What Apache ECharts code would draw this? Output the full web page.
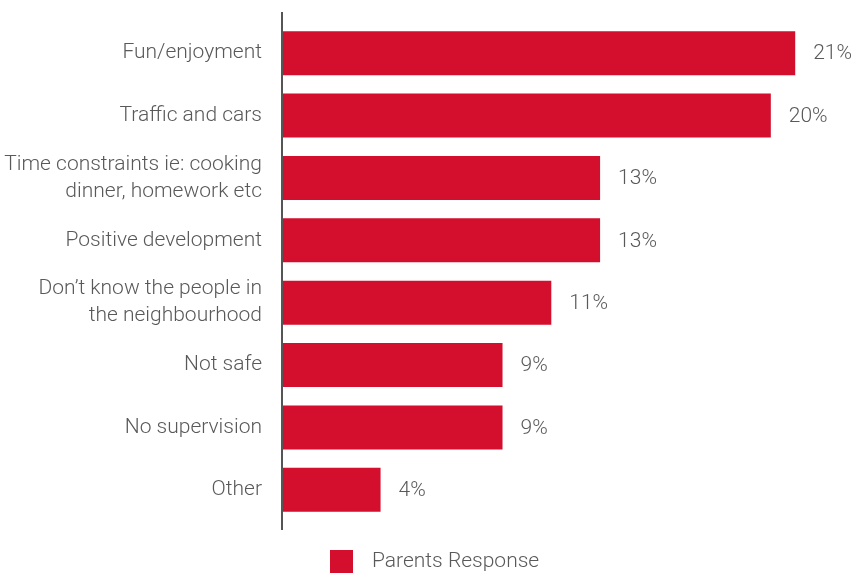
<!DOCTYPE html>
<html>
<head>
<meta charset="utf-8">
<title>Parents Response</title>
<script src="https://cdn.jsdelivr.net/npm/echarts@6/dist/echarts.min.js"></script>
<style>
  html, body { margin: 0; padding: 0; background: #ffffff; }
  #chart { width: 859px; height: 573px; }
</style>
</head>
<body>
<div id="chart"></div>
<script>
// Reasons given by parents, listed top to bottom
const categories = [
  'Fun/enjoyment',
  'Traffic and cars',
  'Time constraints ie: cooking\ndinner, homework etc',
  'Positive development',
  'Don\u2019t know the people in\nthe neighbourhood',
  'Not safe',
  'No supervision',
  'Other'
];
// Share of parents giving each reason (%)
const parentsResponse = [21, 20, 13, 13, 11, 9, 9, 4];
const seriesName = 'Parents Response';

const FONT = 'Roboto';
const TEXT = '#595959';
const RED = '#d30f2d';
const SIZE = 21;

const gridLeft = 283, gridTop = 22, gridHeight = 499;

const chart = echarts.init(document.getElementById('chart'), null, { renderer: 'canvas' });

chart.setOption({
  animation: false,
  backgroundColor: '#ffffff',
  textStyle: { fontFamily: FONT },
  grid: { left: gridLeft, top: gridTop, height: gridHeight, right: 15, containLabel: false },
  legend: {
    data: [seriesName],
    left: 330,
    top: 550,
    padding: 0,
    itemWidth: 23,
    itemHeight: 23,
    icon: 'rect',
    textStyle: { color: TEXT, fontSize: SIZE, fontWeight: 300, fontFamily: FONT, padding: [0, 0, 0, 14] }
  },
  xAxis: {
    type: 'value',
    min: 0,
    max: 23,
    show: false,
    splitLine: { show: false }
  },
  yAxis: {
    type: 'category',
    inverse: true,
    data: categories,
    axisLine: { show: false },
    axisTick: { show: false },
    axisLabel: {
      color: TEXT,
      fontSize: SIZE,
      fontWeight: 300,
      fontFamily: FONT,
      margin: 21,
      lineHeight: 27,
      align: 'right'
    }
  },
  series: [{
    name: seriesName,
    type: 'bar',
    data: parentsResponse,
    barWidth: 44,
    itemStyle: { color: RED },
    label: {
      show: true,
      position: 'right',
      distance: 18,
      offset: [0, 1],
      color: TEXT,
      fontSize: SIZE,
      fontWeight: 300,
      fontFamily: FONT,
      formatter: p => p.value + '%'
    }
  }],
  // vertical baseline that runs a little past the first and last bands
  graphic: [{
    type: 'line',
    shape: { x1: gridLeft - 1, y1: gridTop - 10, x2: gridLeft - 1, y2: gridTop + gridHeight + 9 },
    style: { stroke: '#555555', lineWidth: 2 },
    z: 10
  }]
});
</script>
</body>
</html>
